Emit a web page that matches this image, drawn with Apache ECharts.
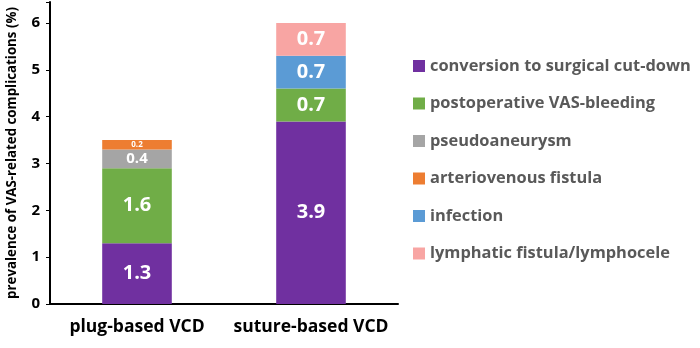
<!DOCTYPE html>
<html><head><meta charset="utf-8">
<script src="https://cdn.jsdelivr.net/npm/echarts@6/dist/echarts.min.js"></script>
<style>html,body{margin:0;padding:0;background:#fff}#c{width:700px;height:348px}</style>
</head><body><div id="c"></div>
<script>
var categories = ['plug-based VCD', 'suture-based VCD'];
var seriesNames = ['conversion to surgical cut-down', 'postoperative VAS-bleeding', 'pseudoaneurysm', 'arteriovenous fistula', 'infection', 'lymphatic fistula/lymphocele'];
var conversion = [1.3, 3.9];
var bleeding = [1.6, 0.7];
var pseudoaneurysm = [0.4, null];
var avFistula = [0.2, null];
var infection = [null, 0.7];
var lymphatic = [null, 0.7];
var yTicks = [0, 1, 2, 3, 4, 5, 6];
var yName = 'prevalence of VAS-related complications (%)';

var colors = ['#7030A0', '#70AD47', '#A5A5A5', '#ED7D31', '#5B9BD5', '#F8A5A3'];
var values = [conversion, bleeding, pseudoaneurysm, avFistula, infection, lymphatic];
var labelSizes = [20, 20, 15, 8, 20, 20];
var font = '"Open Sans", sans-serif';

var chart = echarts.init(document.getElementById('c'));
chart.setOption({
  animation: false,
  grid: {left: 50, right: 302, top: 2, bottom: 44, containLabel: false},
  legend: {
    orient: 'vertical', left: 408, top: 53, itemGap: 21.5, itemWidth: 12, itemHeight: 12, icon: 'rect',
    textStyle: {fontFamily: font, fontWeight: 'bold', fontSize: 16.4, color: '#595959'},
    data: seriesNames
  },
  xAxis: {
    type: 'category', data: categories,
    axisLine: {lineStyle: {color: '#000', width: 2}},
    axisTick: {show: false},
    axisLabel: {interval: 0, fontFamily: font, fontWeight: 'bold', fontSize: 17.5, color: '#000', margin: 14}
  },
  yAxis: {
    type: 'value', min: yTicks[0], max: 6.45, interval: 1,
    name: yName, nameLocation: 'middle', nameGap: 31, nameRotate: 90,
    nameTextStyle: {fontFamily: font, fontWeight: 'bold', fontSize: 13.3, color: '#000'},
    axisLine: {show: true, lineStyle: {color: '#000', width: 2}},
    axisTick: {show: true, length: 4, lineStyle: {color: '#000'}},
    splitLine: {show: false},
    axisLabel: {fontFamily: font, fontWeight: 'bold', fontSize: 15, color: '#000', margin: 10,
      formatter: function (v) { return yTicks.indexOf(v) >= 0 ? String(v) : ''; }}
  },
  series: seriesNames.map(function (n, i) {
    return {
      name: n, type: 'bar', stack: 'total', barWidth: '40%',
      data: values[i].map(function (v) { return v == null ? '-' : v; }),
      itemStyle: {color: colors[i]},
      label: {show: true, position: 'inside', color: '#fff', fontFamily: font, fontWeight: 'bold', fontSize: labelSizes[i]}
    };
  })
});
</script></body></html>
